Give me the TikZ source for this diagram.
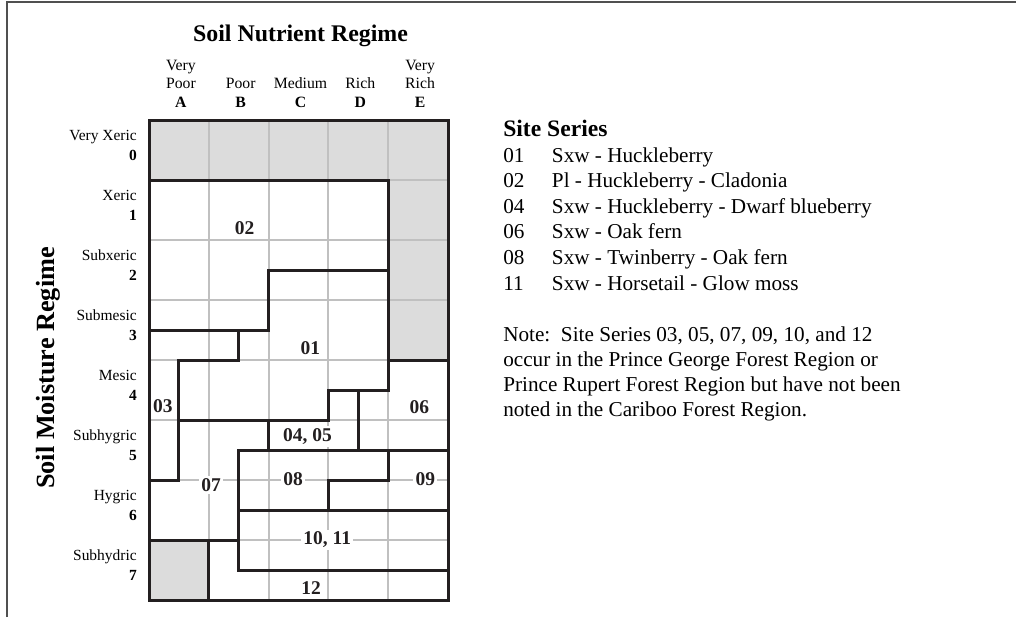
\documentclass[tikz,border=0pt]{standalone}
\usepackage{fontspec}
\setmainfont{Liberation Serif}
\definecolor{inkblack}{HTML}{231F20}
\definecolor{gridgray}{HTML}{C0C0C0}
\definecolor{cellgray}{HTML}{DCDCDC}
\definecolor{framegray}{HTML}{505050}
\tikzset{
  frameline/.style={draw=framegray, line width=1.5pt},
  gridline/.style={draw=gridgray, line width=1.5pt},
  region/.style={draw=inkblack, line width=2.25pt, line cap=rect, line join=miter},
  zonelabel/.style={fill=white, inner sep=1.8pt, text=inkblack, font=\bfseries\fontsize{14.6}{16}\selectfont},
  titletext/.style={inner sep=0pt, anchor=base, font=\bfseries\fontsize{17.9}{20}\selectfont},
  axistext/.style={inner sep=0pt, rotate=90, font=\bfseries\fontsize{19.7}{22}\selectfont},
  colhead/.style={inner sep=0pt, anchor=base, font=\fontsize{11.8}{13}\selectfont},
  colletter/.style={inner sep=0pt, anchor=base, font=\bfseries\fontsize{11.8}{13}\selectfont},
  rowname/.style={inner sep=0pt, anchor=base east, font=\fontsize{11.6}{13}\selectfont},
  rownum/.style={inner sep=0pt, anchor=base east, font=\bfseries\fontsize{11.6}{13}\selectfont},
  heading/.style={inner sep=0pt, anchor=base west, font=\bfseries\fontsize{17.7}{20}\selectfont},
  bodytext/.style={inner sep=0pt, anchor=base west, font=\fontsize{15.9}{18}\selectfont}
}
\begin{document}
\begin{tikzpicture}[x=0.75pt,y=-0.75pt]
\useasboundingbox (0,0) rectangle (1016,617);
\draw[frameline] (7.3,617) -- (7.3,1.7) -- (1016,1.7);

% ---------------- grid ----------------
\begin{scope}[shift={(111.75pt,-90pt)},x=44.85pt,y=-45pt]
  \fill[cellgray] (0,0) rectangle (5,1);
  \fill[cellgray] (4,1) rectangle (5,4);
  \fill[cellgray] (0,7) rectangle (1,8);
  \foreach \c in {1,2,3,4} \draw[gridline] (\c,0) -- (\c,8);
  \foreach \r in {1,...,7} \draw[gridline] (0,\r) -- (5,\r);
  \draw[region] (0,0) rectangle (5,8);
  \draw[region] (0,1) -- (4,1) -- (4,4.5) -- (3,4.5) -- (3,5) -- (0.5,5);
  \draw[region] (4,4) -- (5,4);
  \draw[region] (4,2.5) -- (2,2.5) -- (2,3.5) -- (0,3.5);
  \draw[region] (1.5,3.5) -- (1.5,4) -- (0.5,4) -- (0.5,6) -- (0,6);
  \draw[region] (3.5,4.5) -- (3.5,5.5);
  \draw[region] (2,5) -- (2,5.5);
  \draw[region] (1.5,7.5) -- (1.5,5.5) -- (5,5.5);
  \draw[region] (4,5.5) -- (4,6) -- (3,6) -- (3,6.5);
  \draw[region] (1.5,6.5) -- (5,6.5);
  \draw[region] (1.5,7.5) -- (5,7.5);
  \draw[region] (0,7) -- (1.5,7);
  \draw[region] (1,7) -- (1,8);
  \node[zonelabel] (z02) at (1.6,1.8) {02};
  \node[zonelabel] (z01) at (2.7,3.8) {01};
  \node[zonelabel] (z03) at (0.23,4.77) {03};
  \node[zonelabel] (z06) at (4.52,4.78) {06};
  \node[zonelabel] (z0405) at (2.65,5.28) {04, 05};
  \node[zonelabel] (z07) at (1.04,6.08) {07};
  \node[zonelabel] (z08) at (2.41,5.99) {08};
  \node[zonelabel] (z09) at (4.62,5.99) {09};
  \node[zonelabel] (z1011) at (2.98,7.0) {10, 11};
  \node[zonelabel] (z12) at (2.71,7.8) {12};
\end{scope}

% ---------------- axis titles ----------------
\node[titletext] (ntitle) at (300.5,41) {Soil Nutrient Regime};
\node[axistext] (mtitle) at (48.5,368) {Soil Moisture Regime};

% column headers
\node[colhead] (hA1) at (180.9,70) {Very};
\node[colhead] (hA2) at (180.9,88.5) {Poor};
\node[colletter] (hA3) at (180.9,107) {A};
\node[colhead] (hB2) at (240.7,88.5) {Poor};
\node[colletter] (hB3) at (240.7,107) {B};
\node[colhead] (hC2) at (300.5,88.5) {Medium};
\node[colletter] (hC3) at (300.5,107) {C};
\node[colhead] (hD2) at (360.3,88.5) {Rich};
\node[colletter] (hD3) at (360.3,107) {D};
\node[colhead] (hE1) at (420.1,70) {Very};
\node[colhead] (hE2) at (420.1,88.5) {Rich};
\node[colletter] (hE3) at (420.1,107) {E};

% row headers
\foreach \r/\nm in {0/Very Xeric,1/Xeric,2/Subxeric,3/Submesic,4/Mesic,5/Subhygric,6/Hygric,7/Subhydric}{
  \node[rowname] (rn\r) at (137,{120+60*\r+20}) {\nm};
  \node[rownum] (rv\r) at (137,{120+60*\r+40}) {\r};
}

% ---------------- legend ----------------
\node[heading] (ssh) at (503,136) {Site Series};
\foreach \i/\n/\t in {0/01/Sxw - Huckleberry,1/02/Pl - Huckleberry - Cladonia,2/04/Sxw - Huckleberry - Dwarf blueberry,3/06/Sxw - Oak fern,4/08/Sxw - Twinberry - Oak fern,5/11/Sxw - Horsetail - Glow moss}{
  \node[bodytext] (sn\i) at (503,{162+25.6*\i}) {\n};
  \node[bodytext] (st\i) at (551.7,{162+25.6*\i}) {\t};
}
\node[bodytext] (note1) at (503,341.7) {Note:\hspace{0.5em}Site Series 03, 05, 07, 09, 10, and 12};
\node[bodytext] (note2) at (503,366.7) {occur in the Prince George Forest Region or};
\node[bodytext] (note3) at (503,391.7) {Prince Rupert Forest Region but have not been};
\node[bodytext] (note4) at (503,416.7) {noted in the Cariboo Forest Region.};
\end{tikzpicture}
\end{document}
